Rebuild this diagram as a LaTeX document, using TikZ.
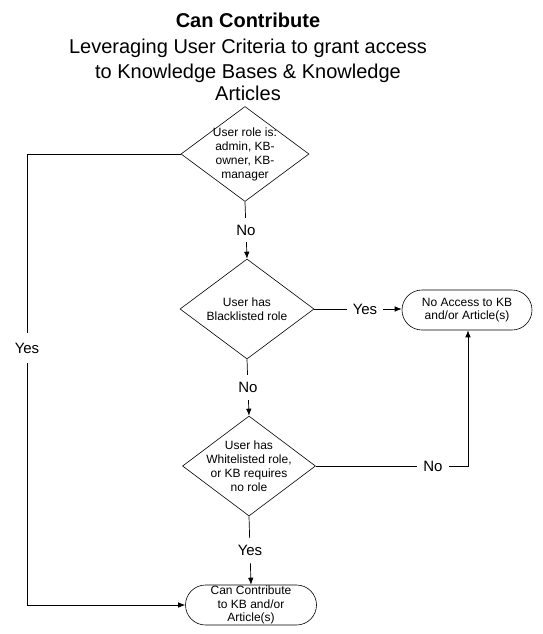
\documentclass[tikz,border=0pt]{standalone}
\usepackage{fontspec}
\setmainfont{Liberation Sans}
\usetikzlibrary{shapes.geometric,arrows.meta}
\begin{document}
\begin{tikzpicture}[x=1pt,y=-1pt,
  line width=0.9pt,
  dec/.style={draw, diamond, inner sep=0pt, line width=0.6pt},
  term/.style={draw, rectangle, rounded corners=20pt, minimum width=130pt, minimum height=40pt, inner sep=0pt, line width=0.6pt, align=center, font=\fontsize{12}{13.5}\selectfont},
  conn/.style={draw, line width=0.7pt},
  arr/.style={conn, -{Latex[length=7pt,width=5.5pt]}},
  elab/.style={fill=white, inner xsep=6pt, inner ysep=7pt, font=\fontsize{15}{17}\selectfont},
  ttl/.style={font=\fontsize{20}{23}\selectfont, inner sep=0pt, anchor=base}
]
\useasboundingbox (0,0) rectangle (543,634);
% title
\node[ttl, font=\fontsize{20}{23}\selectfont\bfseries] (t1l) at (248,28) {Can Contribute};
\node[ttl] (t2l) at (248,54) {Leveraging User Criteria to grant access};
\node[ttl] (t3l) at (248,78) {to Knowledge Bases \& Knowledge};
\node[ttl] (t4l) at (248,100) {Articles};
% nodes
\node[dec, minimum width=128pt, minimum height=95pt,
  label={[align=center, font=\fontsize{12}{14}\selectfont]center:User role is:\\admin, KB-\\owner, KB-\\manager}] (d1) at (245,154) {};
\node[dec, minimum width=134pt, minimum height=100pt,
  label={[align=center, font=\fontsize{12}{13.5}\selectfont]center:User has\\Blacklisted role}] (d2) at (247,309) {};
\node[dec, minimum width=133pt, minimum height=100pt,
  label={[align=center, font=\fontsize{12}{14}\selectfont]center:User has\\Whitelisted role,\\or KB requires\\no role}] (d3) at (249,466) {};
\node[term] (na) at (467,310) {No Access to KB\\and/or Article(s)};
\node[term, minimum width=131pt] (cc) at (251,605) {Can Contribute\\to KB and/or\\Article(s)};
% connectors
\coordinate (cA) at (27,154);
\coordinate (cB) at (27,605);
\coordinate (cN) at (468,466);
\draw[arr] (d1.south) -- node[elab] (lno1) {No} (d2.north);
\draw[arr] (d2.south) -- node[elab] (lno2) {No} (d3.north);
\draw[arr] (d3.south) -- node[elab] (lyes2) {Yes} (cc.north);
\draw[arr] (d2.east) -- node[elab, pos=0.58] (lyes1) {Yes} (na.west |- d2.east);
\draw[arr] (d3.east) -- node[elab, pos=0.77] (lno3) {No} (cN) -- (na.south -| cN);
\draw[arr] (d1.west) -- (cA) -- node[elab, inner ysep=10pt, pos=0.43] (lyes3) {Yes} (cB) -- (cc.west);
\end{tikzpicture}
\end{document}
